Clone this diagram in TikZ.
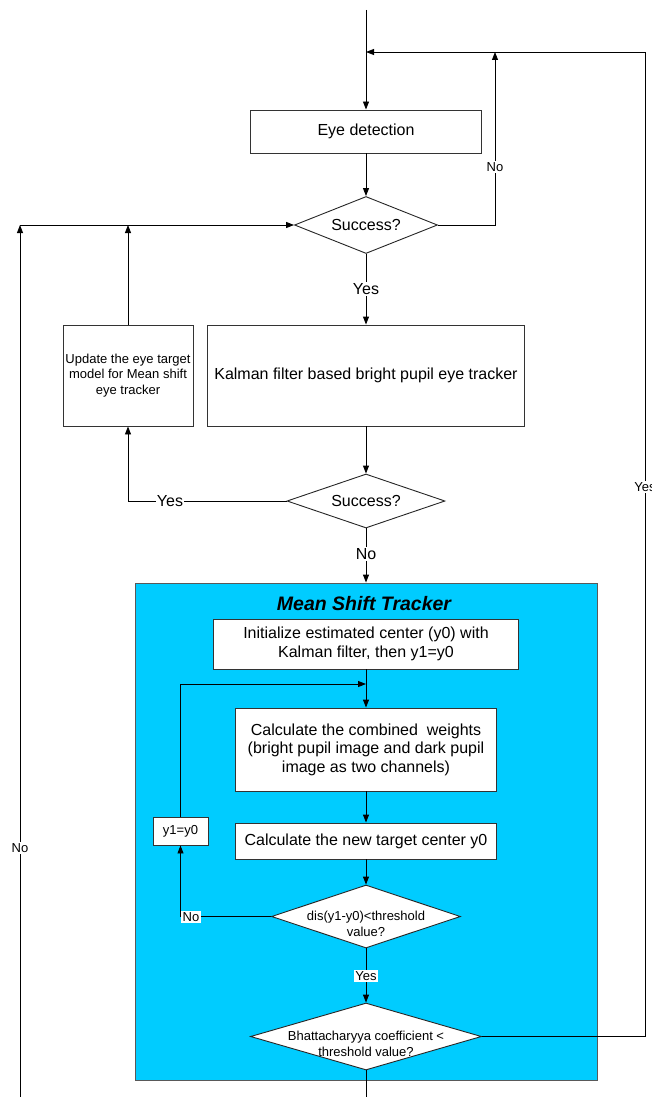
\documentclass[tikz,border=0pt]{standalone}
\usepackage{fontspec}
\setmainfont{Liberation Sans}
\usetikzlibrary{shapes.geometric,arrows.meta}
\definecolor{msblue}{HTML}{00CCFF}
\begin{document}
\begin{tikzpicture}[x=1pt,y=-1pt,
  box/.style={draw=black!80, fill=white, line width=0.9pt, inner sep=0pt, rectangle, align=center},
  dia/.style={draw=black!85, fill=white, diamond, line width=0.9pt, inner sep=0pt},
  conn/.style={line width=0.9pt, draw=black},
  arr/.style={conn, -{Triangle[length=8pt,width=6pt]}},
  big/.style={font=\fontsize{16}{18.5}\selectfont, align=center},
  small/.style={font=\fontsize{13}{15.5}\selectfont, align=center},
  lbl/.style={fill=white, inner sep=1.2pt},
]
\useasboundingbox (0,0) rectangle (651,1097);

% blue container
\node[draw=black!65, fill=msblue, line width=0.9pt, rectangle, inner sep=0pt,
      minimum width=462pt, minimum height=497pt] (ms) at (366,831.5) {};
\node[font=\fontsize{19.5}{22}\selectfont\bfseries\itshape] (mstitle) at (364,604) {Mean Shift Tracker};

% boxes
\node[box, big, minimum width=231pt, minimum height=43pt] (eye) at (366,131.5) {Eye detection};
\node[dia, minimum width=143pt, minimum height=57pt] (d1) at (366,225) {};
\node[big] (d1t) at (d1) {Success?};
\node[box, big, minimum width=317pt, minimum height=101pt] (kal) at (366,375.5) {Kalman filter based bright pupil eye tracker};
\node[box, small, minimum width=130pt, minimum height=101pt] (upd) at (128,375.5) {Update the eye target\\model for Mean shift\\eye tracker};
\node[dia, minimum width=158pt, minimum height=54pt] (d2) at (366,501) {};
\node[big] (d2t) at (d2) {Success?};

\node[box, big, minimum width=305pt, minimum height=50pt] (init) at (366,644) {Initialize estimated center (y0) with\\Kalman filter, then y1=y0};
\node[box, big, minimum width=261pt, minimum height=83pt] (calc) at (366,749.5) {Calculate the combined\ \ weights\\(bright pupil image and dark pupil\\image as two channels)};
\node[box, big, minimum width=261pt, minimum height=36pt] (newc) at (366,841) {Calculate the new target center y0};
\node[box, small, minimum width=55pt, minimum height=28pt] (y1) at (180.5,831) {y1=y0};
\node[dia, minimum width=189pt, minimum height=63pt] (d3) at (366,916.5) {};
\node[small] (d3t) at (366,924) {dis(y1-y0)<threshold\\value?};
\node[dia, minimum width=231pt, minimum height=67pt] (d4) at (366,1036.5) {};
\node[small] (d4t) at (366,1044) {Bhattacharyya coefficient <\\threshold value?};

% coordinates
\coordinate (top) at (366,10);
\coordinate (merge) at (366,52);
\coordinate (rtop) at (645,52);
\coordinate (rbot) at (645,1036.5);
\coordinate (notop) at (495,52);
\coordinate (lbot) at (20,1097);
\coordinate (ltop) at (20,225);
\coordinate (utop) at (128,225);
\coordinate (loop) at (366,684);
\coordinate (bot) at (366,1097);

% connectors
\draw[arr] (top) -- (eye.north);
\draw[arr] (d4.east) -- (rbot) -- (rtop) -- (merge);
\draw[arr] (d1.east) -| (notop);
\draw[arr] (eye.south) -- (d1.north);
\draw[arr] (d1.south) -- (kal.north);
\draw[arr] (upd.north) -- (utop);
\draw[arr] (lbot) -- (ltop);
\draw[arr] (ltop) -- (d1.west);
\draw[arr] (kal.south) -- (d2.north);
\draw[arr] (d2.west) -| (upd.south);
\draw[arr] (d2.south) -- (ms.north);
\draw[arr] (init.south) -- (calc.north);
\draw[arr] (y1.north) |- (loop);
\draw[arr] (calc.south) -- (newc.north);
\draw[arr] (newc.south) -- (d3.north);
\draw[arr] (d3.west) -| (y1.south);
\draw[arr] (d3.south) -- (d4.north);
\draw[conn] (d4.south) -- (bot);

% labels
\node[lbl, small] (lno1) at (495,167) {No};
\node[lbl, big] (lyes1) at (366,289) {Yes};
\node[lbl, small] (lnoL) at (20,848) {No};
\node[lbl, big] (lyes2) at (170,501) {Yes};
\node[lbl, big] (lno2) at (366,554) {No};
\node[lbl, small] (lyesR) at (645,487) {Yes};
\node[lbl, small] (lno3) at (191,917) {No};
\node[lbl, small] (lyes3) at (366,976) {Yes};
\end{tikzpicture}
\end{document}
